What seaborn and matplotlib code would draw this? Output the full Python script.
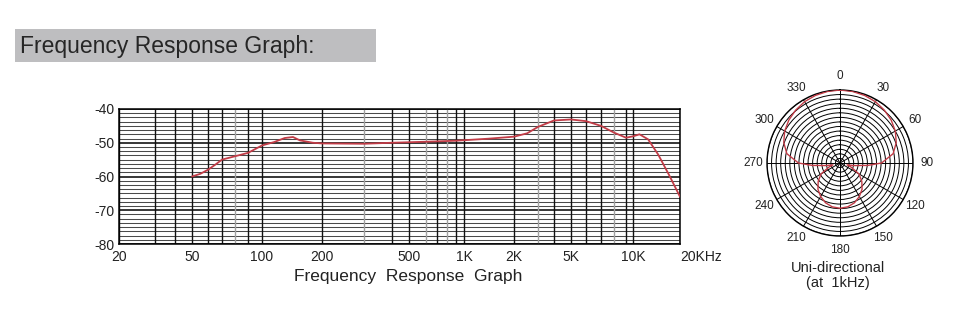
import numpy as np
import pandas as pd
import matplotlib
matplotlib.use("Agg")
import matplotlib.pyplot as plt
from matplotlib.patches import Rectangle
import seaborn as sns

# ---------------- data ----------------
freq_hz = [50, 55, 60, 65, 70, 80, 90, 100, 115, 130, 143, 155, 180, 200, 300, 400,
           600, 900, 1400, 2000, 2500, 3000, 4000, 5000, 6000, 7000, 8000, 9000,
           10000, 11000, 12500, 14500, 17000, 20000]
level_db = [-60, -59.2, -58, -56.5, -55, -54, -53, -50.8, -49.8, -48.6, -48.3, -49.3,
            -50, -50.2, -50.3, -50, -49.7, -49.4, -48.8, -48.2, -47.2, -45.3, -43.4,
            -43.1, -43.6, -45, -47, -48.5, -48.1, -47.5, -49, -53.5, -59.5, -66]

x_tick_values = [20, 50, 100, 200, 500, 1000, 2000, 5000, 10000, 20000]
x_tick_labels = ["20", "50", "100", "200", "500", "1K", "2K", "5K", "10K", "20KHz"]
y_tick_values = [-80, -70, -60, -50, -40]
y_tick_labels = ["-80", "-70", "-60", "-50", "-40"]

grid_freqs = [20, 30, 40, 50, 60, 70, 80, 90, 100, 200, 300, 400, 500, 600, 700, 800,
              900, 1000, 2000, 3000, 4000, 5000, 6000, 7000, 8000, 9000, 10000, 20000]
grey_freqs = [80, 300, 600, 800, 3000, 8000]

polar_angle_deg = [0, 10, 20, 30, 40, 50, 60, 70, 80, 90, 95, 100, 105, 110, 120, 130,
                   140, 150, 160, 170, 180, 190, 200, 210, 220, 230, 240, 250, 255,
                   260, 265, 270, 280, 290, 300, 310, 320, 330, 340, 350, 360]
polar_level = [1.0, 0.995, 0.985, 0.97, 0.945, 0.915, 0.875, 0.82, 0.74, 0.57, 0.38,
               0.2, 0.1, 0.16, 0.3, 0.39, 0.47, 0.53, 0.58, 0.61, 0.62, 0.61, 0.58,
               0.53, 0.47, 0.39, 0.3, 0.16, 0.1, 0.2, 0.38, 0.57, 0.74, 0.82, 0.875,
               0.915, 0.945, 0.97, 0.985, 0.995, 1.0]
polar_angle_labels = ["0", "30", "60", "90", "120", "150", "180", "210", "240", "270", "300", "330"]

# calibration of the (non-uniform) printed frequency axis: relative spacing of grid lines
axis_calib = [119, 155, 175, 192, 208, 222, 235, 248, 262, 322, 364, 392, 409, 426, 437,
              447, 456, 464, 514, 538, 554, 571, 586, 601, 614, 626, 633, 680]

# ---------------- style ----------------
sns.set_theme(style="white")
plt.rcParams["font.family"] = ["Liberation Sans", "DejaVu Sans"]

LG = np.log10(np.array(grid_freqs, float))
GP = np.array(axis_calib, float)


def fwd(x):
    x = np.asarray(x, float)
    lx = np.log10(np.clip(x, 1e-6, None))
    return np.interp(lx, LG, GP)


def inv(p):
    p = np.asarray(p, float)
    return 10 ** np.interp(p, GP, LG)


fig = plt.figure(figsize=(9.6, 3.3), dpi=100)
fig.patch.set_facecolor("white")

# header box
fig.add_artist(Rectangle((15 / 960, 1 - 62 / 330), 361 / 960, 33 / 330,
                         transform=fig.transFigure, facecolor="#bebec0",
                         edgecolor="none", zorder=0))
fig.text(20 / 960, 1 - 46 / 330, "Frequency Response Graph:", fontsize=16.5,
         color="#262626", va="center", ha="left")

# frequency response axes
ax = fig.add_axes([119 / 960, 1 - 244 / 330, (680 - 119) / 960, (244 - 109) / 330])
ax.set_xscale("function", functions=(fwd, inv))
ax.set_xlim(20, 20000)
ax.set_ylim(-80, -40)

# grid
h_minor = [v for v in np.arange(-80, -40 + 0.01, 1.25) if abs(v % 10) > 1e-6]
ax.hlines(h_minor, 20, 20000, colors="#4a4a4a", lw=0.75, zorder=1)
ax.hlines(y_tick_values, 20, 20000, colors="#000000", lw=1.1, zorder=1)
vcolors = ["#a0a0a0" if f in grey_freqs else "#111111" for f in grid_freqs]
ax.vlines(grid_freqs, -80, -40, colors=vcolors, lw=1.0, zorder=1)

sns.lineplot(x=freq_hz, y=level_db, ax=ax, color="#c23c47", lw=1.3,
             estimator=None, sort=False, zorder=3)

ax.set_xticks(x_tick_values)
ax.set_xticklabels(x_tick_labels)
ax.set_xticks([], minor=True)
ax.set_yticks(y_tick_values)
ax.set_yticklabels(y_tick_labels)
ax.tick_params(axis="both", length=0, labelsize=10, colors="#222222")
ax.tick_params(axis="x", pad=4)
ax.tick_params(axis="y", pad=3)
lbls = ax.get_xticklabels()
lbls[-1].set_horizontalalignment("left")
ax.set_xlabel("")
ax.set_ylabel("")
for s in ax.spines.values():
    s.set_color("#000000")
    s.set_linewidth(1.1)
    s.set_visible(True)

fig.text(408 / 960, 1 - 277 / 330, "Frequency  Response  Graph", fontsize=12.5,
         color="#222222", ha="center", va="center")

# polar pattern
pax = fig.add_axes([767 / 960, 1 - 236 / 330, 146 / 960, 146 / 330], projection="polar")
pax.set_theta_zero_location("N")
pax.set_theta_direction(-1)
sns.lineplot(x=np.deg2rad(polar_angle_deg), y=polar_level, ax=pax, color="#c23c47",
             lw=1.0, estimator=None, sort=False, zorder=3)
pax.set_ylim(0, 1)
pax.set_rgrids(np.linspace(1 / 16, 1, 16), labels=[""] * 16)
pax.set_thetagrids(np.arange(0, 360, 30), labels=polar_angle_labels)
pax.grid(True, color="#000000", lw=0.7)
pax.tick_params(axis="x", pad=-3, labelsize=8.5, colors="#222222")
pax.spines["polar"].set_color("#000000")
pax.spines["polar"].set_linewidth(1.0)
pax.set_xlabel("")
pax.set_ylabel("")
pax.set_facecolor("white")

fig.text(838 / 960, 1 - 268 / 330, "Uni-directional", fontsize=10.5, color="#222222",
         ha="center", va="center")
fig.text(838 / 960, 1 - 283 / 330, "(at  1kHz)", fontsize=10.5, color="#222222",
         ha="center", va="center")

fig.savefig("out.png", dpi=100, facecolor="white")
